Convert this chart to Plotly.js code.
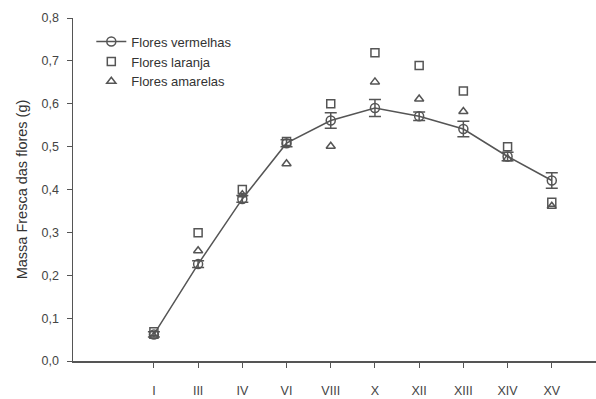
<!DOCTYPE html>
<html><head><meta charset="utf-8">
<script src="https://cdn.plot.ly/plotly-3.0.1.min.js"></script>
<style>body{margin:0;background:#fff}#c{width:596px;height:399px}</style>
</head><body><div id="c"></div>
<script>
const stages = ['I','III','IV','VI','VIII','X','XII','XIII','XIV','XV'];
const xpos = [1,2,3,4,5,6,7,8,9,10];
const vermelhas = [0.062,0.226,0.378,0.508,0.561,0.590,0.571,0.541,0.477,0.421];
const vermelhasErr = [0.006,0.008,0.008,0.008,0.018,0.020,0.010,0.018,0.010,0.018];
const laranja = [0.068,0.299,0.400,0.512,0.600,0.719,0.689,0.630,0.500,0.370];
const amarelas = [0.058,0.257,0.388,0.460,0.501,0.651,0.611,0.582,0.472,0.361];
const yTicks = [0,0.1,0.2,0.3,0.4,0.5,0.6,0.7,0.8];

const grey = '#555555';
const fam = 'Liberation Sans, Arial, sans-serif';

const traces = [
  {x:xpos, y:vermelhas, name:'Flores vermelhas', type:'scatter', mode:'lines+markers',
   line:{color:grey,width:1.5},
   marker:{symbol:'circle-open',size:9,color:grey,line:{width:1.5,color:grey}},
   error_y:{type:'data',array:vermelhasErr,visible:true,color:grey,thickness:1.5,width:6}},
  {x:xpos, y:laranja, name:'Flores laranja', type:'scatter', mode:'markers',
   marker:{symbol:'square-open',size:8,color:grey,line:{width:1.5,color:grey}}},
  {x:xpos, y:amarelas, name:'Flores amarelas', type:'scatter', mode:'markers',
   marker:{symbol:'triangle-up-open',size:8,color:grey,line:{width:1.5,color:grey}}}
];

const layout = {
  width:596, height:399,
  margin:{l:73,r:0,t:18,b:38},
  paper_bgcolor:'#fff', plot_bgcolor:'#fff',
  font:{family:fam,size:12,color:'#444'},
  separators:',.',
  showlegend:true,
  legend:{x:0.035,y:0.975,xanchor:'left',yanchor:'top',bgcolor:'rgba(0,0,0,0)',
          font:{family:fam,size:13,color:'#333'},itemwidth:30,tracegroupgap:0},
  xaxis:{range:[-0.83,11],tickmode:'array',tickvals:xpos,ticktext:stages,
         showgrid:false,zeroline:false,showline:true,linecolor:grey,linewidth:1.5,
         ticks:'outside',ticklen:5,tickcolor:grey,tickwidth:1,ticklabelstandoff:12,
         tickfont:{family:fam,size:12.5,color:'#444'}},
  yaxis:{range:[0,0.8],tickmode:'array',tickvals:yTicks,tickformat:'.1f',
         showgrid:false,zeroline:false,showline:true,linecolor:grey,linewidth:1.5,
         ticks:'outside',ticklen:5,tickcolor:grey,tickwidth:1,ticklabelstandoff:5,
         tickfont:{family:fam,size:12.5,color:'#444'},
         title:{text:'Massa Fresca das flores (g)',font:{family:fam,size:14.5,color:'#333'},standoff:10}}
};

Plotly.newPlot('c', traces, layout, {displayModeBar:false, staticPlot:true});
</script></body></html>
